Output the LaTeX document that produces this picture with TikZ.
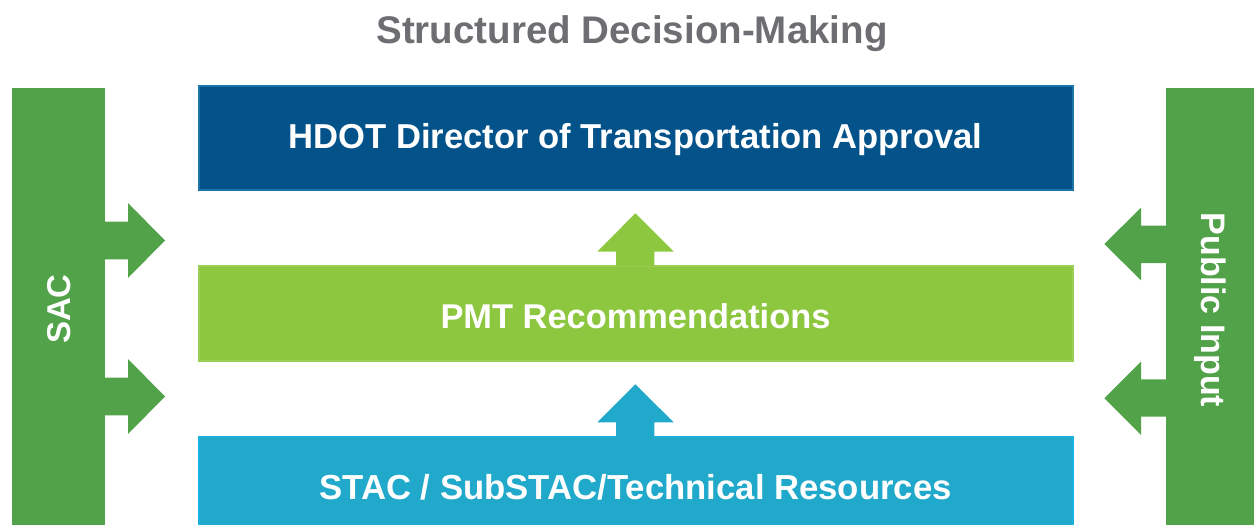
\documentclass[tikz,border=0pt]{standalone}
\usepackage{fontspec}
\setmainfont{Liberation Sans}
\usetikzlibrary{positioning}
\definecolor{titlegray}{HTML}{6D6E71}
\definecolor{sidegreen}{HTML}{52A24A}
\definecolor{darkblue}{HTML}{03538A}
\definecolor{darkblueedge}{HTML}{1A74A8}
\definecolor{lightgreen}{HTML}{8DC73F}
\definecolor{lightgreenedge}{HTML}{9BCE52}
\definecolor{cyanblue}{HTML}{21A9CB}
\definecolor{cyanedge}{HTML}{19B1E2}
\tikzset{
  box/.style={rectangle, inner sep=0pt, outer sep=0pt, line width=1.5pt, anchor=north west},
  boxtext/.style={text=white, inner sep=0pt},
  sidebar/.style={rectangle, inner sep=0pt, outer sep=0pt, fill=sidegreen, anchor=north west},
  sidelabel/.style={text=white, font=\bfseries\fontsize{33}{36}\selectfont, inner sep=0pt},
}
\begin{document}
\begin{tikzpicture}[x=1pt,y=-1pt]
\useasboundingbox (0,0) rectangle (1254,525);
% title
\node[text=titlegray, font=\bfseries\fontsize{38.5}{42}\selectfont] (title) at (632,34) {Structured Decision-Making};
% side bars
\node[sidebar, minimum width=93pt, minimum height=437pt] (sac) at (12,88) {};
\node[sidebar, minimum width=90pt, minimum height=437pt] (pub) at (1166,88) {};
\node[sidelabel, rotate=90] (saclabel) at (59,309) {SAC};
\node[sidelabel, font=\bfseries\fontsize{34}{36}\selectfont, rotate=-90] (publabel) at (1210,310) {Public Input};
% boxes
\node[box, fill=darkblue, draw=darkblueedge, minimum width=874pt, minimum height=104pt] (hdot) at (198.75,85.75) {};
\node[boxtext, font=\bfseries\fontsize{34.6}{40}\selectfont] (hdottext) at (635.5,140) {HDOT Director of Transportation Approval};
\node[box, fill=lightgreen, draw=lightgreenedge, minimum width=874pt, minimum height=95pt] (pmt) at (198.75,265.75) {};
\node[boxtext, font=\bfseries\fontsize{34.4}{40}\selectfont] (pmttext) at (635.5,316) {PMT Recommendations};
\node[box, fill=cyanblue, draw=cyanedge, minimum width=874pt, minimum height=95pt] (stac) at (198.75,436.5) {};
\node[boxtext, font=\bfseries\fontsize{34.7}{40}\selectfont] (stactext) at (635.5,487) {STAC / SubSTAC/Technical Resources};
% left arrows
\fill[sidegreen] (105,221.7) -- (128,221.7) -- (128,203) -- (165,240.5) -- (128,278) -- (128,259.3) -- (104,259.3) -- (104,221.7) -- cycle;
\fill[sidegreen] (105,377.7) -- (128,377.7) -- (128,359) -- (165,396.5) -- (128,434) -- (128,415.3) -- (104,415.3) -- (104,377.7) -- cycle;
% right arrows
\fill[sidegreen] (1167,225.7) -- (1141,225.7) -- (1141,207.7) -- (1104.3,244) -- (1141,280.3) -- (1141,263) -- (1167,263) -- cycle;
\fill[sidegreen] (1167,379.3) -- (1141,379.3) -- (1141,361.7) -- (1104.3,398.3) -- (1141,435) -- (1141,416.7) -- (1167,416.7) -- cycle;
% up arrows
\fill[lightgreen] (616,266) -- (616,251.7) -- (597.3,251.7) -- (635.3,213.3) -- (673.7,251.7) -- (654.3,251.7) -- (654.3,266) -- cycle;
\fill[cyanblue] (616,437) -- (616,422.3) -- (597.3,422.3) -- (635.3,384.3) -- (673.7,422.3) -- (654.3,422.3) -- (654.3,437) -- cycle;
\end{tikzpicture}
\end{document}
